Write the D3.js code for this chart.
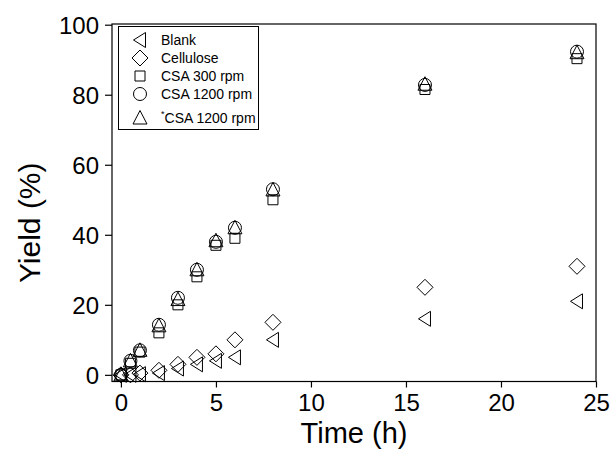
<!DOCTYPE html>
<html>
<head>
<meta charset="utf-8">
<script src="https://cdn.jsdelivr.net/npm/d3@7"></script>
<style>
  html, body { margin: 0; padding: 0; background: #fff; }
  svg { display: block; font-family: "Liberation Sans", Arial, sans-serif; }
</style>
</head>
<body>
<svg id="chart" width="611" height="450"></svg>
<script>
// Sampling times (h)
const times = [0, 0.5, 1, 2, 3, 4, 5, 6, 8, 16, 24];

// Yield (%) per series
const blank      = [0, 0, 0.2, 0.5, 1.8, 3, 4, 5, 10, 16, 21];
const cellulose  = [0, 0, 0.5, 1.3, 3, 5, 6, 10, 15, 25, 31];
const csa300     = [0, 3.3, 6.5, 12, 20, 28, 37, 39, 50, 81.5, 90.3];
const csa1200    = [0, 4, 7, 14.3, 22, 30, 38, 42, 53, 82.8, 92.3];
const csa1200s   = [0, 4, 7, 14, 21.5, 30, 38.3, 42, 52.8, 83, 92];

const xTicks = [0, 5, 10, 15, 20, 25];
const yTicks = [0, 20, 40, 60, 80, 100];

const seriesNames = ["Blank", "Cellulose", "CSA 300 rpm", "CSA 1200 rpm", "CSA 1200 rpm"];
const seriesShapes = ["left", "diamond", "square", "circle", "up"];
const seriesValues = [blank, cellulose, csa300, csa1200, csa1200s];

const svg = d3.select("#chart");
const plot = { left: 112, right: 596, top: 24, bottom: 381.5 };

const x = d3.scaleLinear().domain([-0.47, 25]).range([plot.left, plot.right]);
const y = d3.scaleLinear().domain([-1.9, 100.2]).range([plot.bottom, plot.top]);

// Marker outlines centred on the origin
function shapePath(kind) {
  switch (kind) {
    case "left":    return "M-6.5,0L5.5,-7.5L5.5,7.5Z";
    case "diamond": return "M0,-8L8,0L0,8L-8,0Z";
    case "square":  return "M-5,-5H5V5H-5Z";
    case "circle":  return "M6.5,0A6.5,6.5 0 1,1 -6.5,0A6.5,6.5 0 1,1 6.5,0Z";
    case "up":      return "M0,-7.5L7,6L-7,6Z";
  }
}

// Plot frame
svg.append("rect")
  .attr("x", plot.left).attr("y", plot.top)
  .attr("width", plot.right - plot.left).attr("height", plot.bottom - plot.top)
  .attr("fill", "none").attr("stroke", "#000").attr("stroke-width", 1.2);

// Axes
const xAxis = svg.append("g")
  .attr("transform", `translate(0,${plot.bottom})`)
  .call(d3.axisBottom(x).tickValues(xTicks).tickSize(6).tickPadding(6).tickFormat(d3.format("d")));
const yAxis = svg.append("g")
  .attr("transform", `translate(${plot.left},0)`)
  .call(d3.axisLeft(y).tickValues(yTicks).tickSize(7).tickPadding(6).tickFormat(d3.format("d")));

[xAxis, yAxis].forEach(g => {
  g.select(".domain").remove();
  g.selectAll(".tick line").attr("stroke", "#000").attr("stroke-width", 1.2);
  g.selectAll(".tick text")
    .attr("fill", "#000")
    .style("font-family", "'Liberation Sans', Arial, sans-serif")
    .style("font-size", "24px");
});
yAxis.selectAll(".tick text").attr("dy", "0.36em");
xAxis.selectAll(".tick text").attr("dy", "0.72em");

// Axis titles
svg.append("text")
  .attr("x", (plot.left + plot.right) / 2).attr("y", 443)
  .attr("text-anchor", "middle")
  .style("font-size", "29px")
  .text("Time (h)");
svg.append("text")
  .attr("transform", `translate(40,${(plot.top + plot.bottom) / 2 + 20}) rotate(-90)`)
  .attr("text-anchor", "middle")
  .style("font-size", "30px")
  .text("Yield (%)");

// Data markers (open symbols)
seriesValues.forEach((vals, i) => {
  svg.append("g")
    .selectAll("path")
    .data(times.map((t, j) => ({ t, v: vals[j] })))
    .join("path")
    .attr("transform", d => `translate(${x(d.t)},${y(d.v)})`)
    .attr("d", shapePath(seriesShapes[i]))
    .attr("fill", "none")
    .attr("stroke", "#000")
    .attr("stroke-width", 1);
});

// Legend
const legend = svg.append("g");
legend.append("rect")
  .attr("x", 118.5).attr("y", 26.5).attr("width", 140).attr("height", 103)
  .attr("fill", "#fff").attr("stroke", "#000").attr("stroke-width", 1);
const rowY = [40, 58, 76, 94, 118];
seriesNames.forEach((name, i) => {
  legend.append("path")
    .attr("transform", `translate(140,${rowY[i]})`)
    .attr("d", shapePath(seriesShapes[i]))
    .attr("fill", "none").attr("stroke", "#000").attr("stroke-width", 1);
  const t = legend.append("text")
    .attr("x", 161).attr("y", rowY[i] + 5)
    .style("font-size", "14px")
    .attr("fill", "#000");
  if (i === 4) {
    t.append("tspan").attr("dy", "-6").style("font-size", "9px").text("*");
    t.append("tspan").attr("dy", "6").text(name);
  } else {
    t.text(name);
  }
});
</script>
</body>
</html>
